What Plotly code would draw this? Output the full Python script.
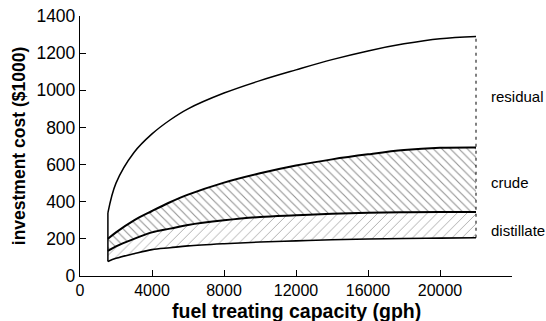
import plotly.graph_objects as go

capacity = [1550, 2000, 3000, 4000, 5000, 6000, 8000, 10000, 12000, 14000, 16000, 18000, 20000, 22000]
residual = [340, 500, 665, 765, 840, 900, 985, 1052, 1110, 1165, 1212, 1250, 1278, 1290]
crude = [200, 235, 300, 350, 397, 438, 503, 553, 595, 628, 655, 678, 690, 692]
distillate_top = [135, 160, 200, 235, 255, 275, 300, 318, 327, 335, 340, 343, 345, 345]
distillate_bottom = [78, 95, 120, 142, 152, 162, 174, 183, 189, 195, 199, 202, 204, 206]

x_ticks = [0, 4000, 8000, 12000, 16000, 20000, 24000]
x_tick_labels = ["0", "4000", "8000", "12000", "16000", "20000", ""]
y_ticks = [0, 200, 400, 600, 800, 1000, 1200, 1400]

band_labels = ["residual", "crude", "distillate"]
label_y = [965, 506, 244]

x_title = "fuel treating capacity (gph)"
y_title = "investment cost ($1000)"

FONT = "Liberation Sans, Arial, Helvetica, sans-serif"

fig = go.Figure()
fig.add_trace(go.Scatter(x=capacity, y=distillate_bottom, mode="lines",
                         line=dict(color="black", width=1.6, shape="spline"),
                         hoverinfo="skip"))
fig.add_trace(go.Scatter(x=capacity, y=distillate_top, mode="lines",
                         line=dict(color="black", width=2, shape="spline"),
                         fill="tonexty", fillcolor="white",
                         fillpattern=dict(shape="/", size=7, solidity=0.12,
                                          fgcolor="#444", bgcolor="white"),
                         hoverinfo="skip"))
fig.add_trace(go.Scatter(x=capacity, y=crude, mode="lines",
                         line=dict(color="black", width=2, shape="spline"),
                         fill="tonexty", fillcolor="white",
                         fillpattern=dict(shape="\\", size=6, solidity=0.18,
                                          fgcolor="#222", bgcolor="white"),
                         hoverinfo="skip"))
fig.add_trace(go.Scatter(x=capacity, y=residual, mode="lines",
                         line=dict(color="black", width=1.5, shape="spline"),
                         hoverinfo="skip"))
# left edge (solid) and right edge (dashed)
fig.add_trace(go.Scatter(x=[capacity[0], capacity[0]], y=[distillate_bottom[0], residual[0]],
                         mode="lines", line=dict(color="black", width=1.5), hoverinfo="skip"))
fig.add_trace(go.Scatter(x=[capacity[-1], capacity[-1]], y=[distillate_bottom[-1], residual[-1]],
                         mode="lines", line=dict(color="black", width=1, dash="3px,4px"),
                         hoverinfo="skip"))

for name, yv in zip(band_labels, label_y):
    fig.add_annotation(x=22720, y=yv, text=name, showarrow=False, xanchor="left",
                       yanchor="middle", font=dict(family=FONT, size=15, color="black"))

# x-axis title placed precisely below the tick labels
fig.add_annotation(x=0.5, y=-0.135, xref="paper", yref="paper", text=x_title,
                   showarrow=False, xanchor="center", yanchor="middle",
                   font=dict(family=FONT, size=19.5, weight="bold", color="black"))

fig.update_layout(
    width=546, height=321,
    margin=dict(l=80, r=34, t=16, b=45),
    paper_bgcolor="white", plot_bgcolor="white",
    showlegend=False,
    font=dict(family=FONT, color="black"),
)
fig.update_xaxes(range=[0, 24000], tickvals=x_ticks, ticktext=x_tick_labels, automargin=False,
                 ticks="inside", ticklen=6, tickwidth=1.2, tickcolor="black",
                 showline=True, linecolor="black", linewidth=1.3, showgrid=False,
                 zeroline=False, tickfont=dict(family=FONT, size=16, color="black"))
fig.update_yaxes(range=[0, 1400], tickvals=y_ticks, automargin=False,
                 ticks="inside", ticklen=6, tickwidth=1.2, tickcolor="black",
                 showline=True, linecolor="black", linewidth=1.3, showgrid=False,
                 zeroline=False, tickfont=dict(family=FONT, size=17.5, color="black"),
                 title=dict(text=y_title, standoff=6,
                            font=dict(family=FONT, size=17.5, weight="bold", color="black")))

fig.write_html("out.html", post_script="document.body.style.margin='0';",
               config={"displayModeBar": False})
